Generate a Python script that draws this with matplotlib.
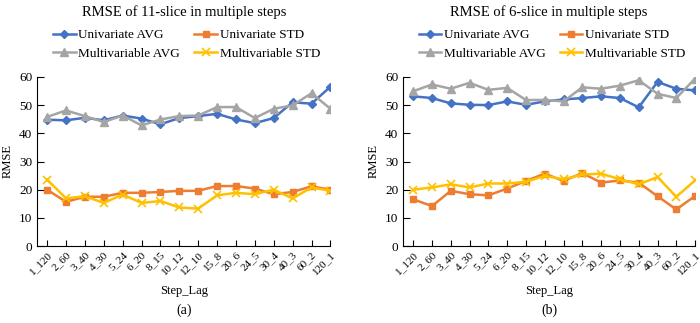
import matplotlib.pyplot as plt
import numpy as np

plt.rcParams['font.family'] = ['Liberation Serif', 'DejaVu Serif']

step_lag = ["1_120", "2_60", "3_40", "4_30", "5_24", "6_20", "8_15", "10_12",
            "12_10", "15_8", "20_6", "24_5", "30_4", "40_3", "60_2", "120_1"]

# 11-slice
a_uni_avg = [44.8, 44.6, 45.5, 44.6, 46.3, 45.2, 43.2, 45.4, 46.1, 46.9, 44.9, 43.6, 45.4, 51.0, 50.5, 56.5]
a_uni_std = [20.0, 15.7, 17.5, 17.5, 18.9, 18.9, 19.2, 19.6, 19.6, 21.3, 21.3, 20.4, 18.4, 19.2, 21.2, 20.0]
a_mul_avg = [45.8, 48.1, 46.1, 44.0, 46.3, 42.8, 44.9, 46.1, 46.3, 49.3, 49.3, 45.4, 48.7, 49.9, 54.2, 48.7]
a_mul_std = [23.6, 16.9, 17.7, 15.3, 18.3, 15.3, 16.0, 13.7, 13.3, 18.0, 18.9, 18.4, 20.0, 16.9, 20.8, 19.6]

# 6-slice
b_uni_avg = [53.1, 52.5, 50.6, 50.1, 50.0, 51.3, 50.1, 51.3, 52.0, 52.5, 53.1, 52.5, 49.2, 58.2, 55.8, 55.2]
b_uni_std = [16.6, 14.2, 19.6, 18.4, 18.0, 20.4, 23.1, 25.7, 23.1, 25.9, 22.5, 23.3, 22.5, 17.7, 13.0, 17.8]
b_mul_avg = [54.9, 57.3, 55.8, 57.9, 55.4, 56.1, 51.8, 51.8, 51.3, 56.3, 55.8, 56.9, 58.8, 54.0, 52.5, 59.4]
b_mul_std = [20.0, 20.8, 21.9, 20.8, 22.2, 22.2, 22.8, 24.9, 23.7, 25.4, 25.7, 23.7, 21.9, 24.5, 17.5, 23.3]

panels = [
    ("RMSE of 11-slice in multiple steps", "(a)", a_uni_avg, a_uni_std, a_mul_avg, a_mul_std, [0.053, 0.472]),
    ("RMSE of 6-slice in multiple steps", "(b)", b_uni_avg, b_uni_std, b_mul_avg, b_mul_std, [0.576, 0.993]),
]

fig = plt.figure(figsize=(7, 3.23), dpi=100)
x = np.arange(len(step_lag))

for title, tag, ua, us, ma, ms, (l, r) in panels:
    ax = fig.add_axes([l, 0.238, r - l, 0.524])
    h1, = ax.plot(x, ua, color='#4472C4', marker='D', ms=4.5, lw=1.8, label='Univariate AVG')
    h2, = ax.plot(x, us, color='#ED7D31', marker='s', ms=5, lw=1.8, label='Univariate STD')
    h3, = ax.plot(x, ma, color='#A5A5A5', marker='^', ms=5.5, lw=1.8, label='Multivariable AVG')
    h4, = ax.plot(x, ms, color='#FFC000', marker='x', ms=6, mew=1.2, lw=1.8, label='Multivariable STD')
    ax.set_xlim(-0.53, 15)
    ax.set_ylim(0, 60)
    ax.set_yticks([0, 10, 20, 30, 40, 50, 60])
    ax.set_xticks(x)
    ax.set_xticklabels(step_lag, rotation=45, ha='right', rotation_mode='anchor', fontsize=8)
    ax.tick_params(axis='x', direction='in', length=4, width=0.8, pad=3)
    ax.tick_params(axis='y', direction='in', length=5, width=0.8, labelsize=9.5)
    ax.spines['top'].set_visible(False)
    ax.spines['right'].set_visible(False)
    ax.set_ylabel('RMSE', fontsize=9)
    cx = (l + r) / 2
    fig.text(cx, 0.962, title, ha='center', va='center', fontsize=10.5)
    fig.text(cx, 0.10, 'Step_Lag', ha='center', va='center', fontsize=9)
    fig.text(cx, 0.04, tag, ha='center', va='center', fontsize=10)
    fig.legend(handles=[h1, h3, h2, h4], ncol=2, frameon=False, fontsize=9.5,
               loc='center', bbox_to_anchor=(cx + 0.004, 0.862), handlelength=1.7,
               columnspacing=1.1, labelspacing=0.5, handletextpad=0.2)

fig.savefig('out.png', dpi=100)
